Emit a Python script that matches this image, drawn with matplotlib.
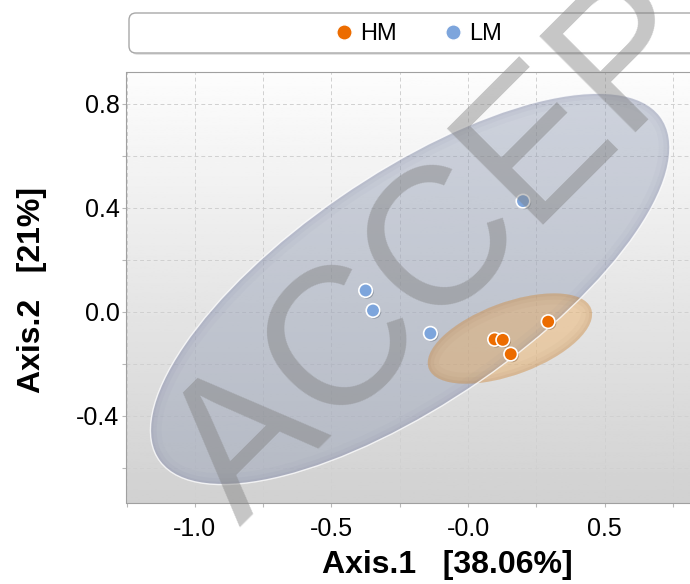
import numpy as np
import matplotlib
matplotlib.use("Agg")
import matplotlib.pyplot as plt
import matplotlib.patheffects as pe
from matplotlib.patches import Ellipse, FancyBboxPatch
from matplotlib.lines import Line2D

plt.rcParams['font.family'] = ['Liberation Sans', 'DejaVu Sans']

# grupos y coordenadas PCoA
groups = ["HM", "LM"]
colors = ["#ec6c00", "#7da5dc"]
hm_x = [0.293, 0.097, 0.127, 0.156]
hm_y = [-0.038, -0.106, -0.108, -0.163]
lm_x = [0.201, -0.375, -0.348, -0.138]
lm_y = [0.426, 0.082, 0.005, -0.083]
# elipses: centro x, centro y, ancho, alto, angulo
hm_ellipse = (0.153, -0.103, 0.637, 0.277, 21.5)
lm_ellipse = (-0.212, 0.088, 2.262, 0.875, 36.0)

xticks = [-1.0, -0.5, 0.0, 0.5]
xticklabels = ["-1.0", "-0.5", "-0.0", "0.5"]
yticks = [-0.4, 0.0, 0.4, 0.8]
yticklabels = ["-0.4", "0.0", "0.4", "0.8"]
xlim = (-1.25, 0.812)
ylim = (-0.736, 0.923)

fig = plt.figure(figsize=(6.9, 5.84), dpi=100)
ax = fig.add_axes([126.5 / 690, 1 - 503 / 584, 1 - 126.5 / 690, (503 - 72) / 584])

# fondo degradado
grad = np.linspace(0.99, 0.82, 256)[:, None]
ax.imshow(grad, cmap="gray", vmin=0, vmax=1, aspect="auto", origin="upper",
          extent=(xlim[0], xlim[1], ylim[0], ylim[1]), zorder=0)


def shaded_ellipse(params, face, rim, alpha, white_edge=True):
    cx, cy, w, h, ang = params
    base = Ellipse((cx, cy), w, h, angle=ang, facecolor=face, edgecolor="none",
                   alpha=alpha, zorder=1)
    ax.add_patch(base)
    for lw, a in [(16, 0.035), (9, 0.05), (4, 0.07)]:
        e = Ellipse((cx, cy), w, h, angle=ang, fill=False, edgecolor=rim,
                    lw=lw, alpha=a, zorder=1.1)
        e.set_clip_path(base)
        ax.add_patch(e)
    if white_edge:
        ax.add_patch(Ellipse((cx, cy), w, h, angle=ang, fill=False,
                             edgecolor="white", lw=1.0, alpha=0.8, zorder=1.2))


shaded_ellipse(lm_ellipse, "#8a96b0", "#6a6a98", 0.40)
shaded_ellipse(hm_ellipse, "#f0a850", "#906040", 0.40, white_edge=False)

shadow = [pe.SimplePatchShadow(offset=(1, -1), alpha=0.3), pe.Normal()]
for gx, gy, c in [(hm_x, hm_y, colors[0]), (lm_x, lm_y, colors[1])]:
    ax.scatter(gx, gy, s=95, color=c, edgecolors="white", linewidths=1.2,
               zorder=3, path_effects=shadow)

ax.set_xlim(xlim)
ax.set_ylim(ylim)
ax.set_xticks(xticks)
ax.set_xticklabels(xticklabels)
ax.set_yticks(yticks)
ax.set_yticklabels(yticklabels)
ax.set_xticks([-1.25, -0.75, -0.25, 0.25, 0.75], minor=True)
ax.set_yticks([-0.6, -0.2, 0.2, 0.6], minor=True)
ax.tick_params(which="both", length=3, color="#b8b8b8", width=0.8)
ax.tick_params(axis="y", which="major", labelsize=18, pad=2)
ax.tick_params(axis="x", which="major", labelsize=18, pad=7)
ax.set_axisbelow(True)
ax.grid(which="both", color="#d0d0d0", lw=0.7, ls=(0, (4, 3)))
for side in ["left", "bottom", "top"]:
    ax.spines[side].set_color("#a0a0a0")
ax.spines["right"].set_visible(False)

fig.text(447 / 690, 1 - 565 / 584, "Axis.1   [38.06%]", ha="center", va="center",
         fontsize=23, fontweight="bold")
fig.text(32 / 690, 1 - 290 / 584, "Axis.2   [21%]", ha="center", va="center",
         rotation=90, fontsize=23, fontweight="bold")

# leyenda superior en coordenadas de pixel
ov = fig.add_axes([0, 0, 1, 1], zorder=-1)
ov.set_xlim(0, 690)
ov.set_ylim(584, 0)
ov.axis("off")
ov.add_patch(FancyBboxPatch((131, 15), 600, 40, boxstyle="round,pad=0,rounding_size=7",
                            facecolor="#d8d8d8", edgecolor="none", alpha=0.7))
ov.add_patch(FancyBboxPatch((129, 13), 600, 40, boxstyle="round,pad=0,rounding_size=7",
                            facecolor="white", edgecolor="#a8a8a8", lw=1))
handles = [Line2D([], [], marker="o", ls="none", markerfacecolor=c,
                  markeredgecolor="white", markersize=11) for c in colors]
ov.legend(handles, groups, ncol=2, loc="center", bbox_to_anchor=(417, 34),
          bbox_transform=ov.transData, frameon=False, fontsize=17,
          handletextpad=0.2, columnspacing=1.85, handlelength=1.0)

# marca de agua
fig.text(240 / 690, 1 - 528 / 584, "ACCEPTED", rotation=45, rotation_mode="anchor",
         ha="left", va="baseline", fontsize=141, color="#808080", alpha=0.45,
         zorder=10)

fig.savefig("out.png", dpi=100)
